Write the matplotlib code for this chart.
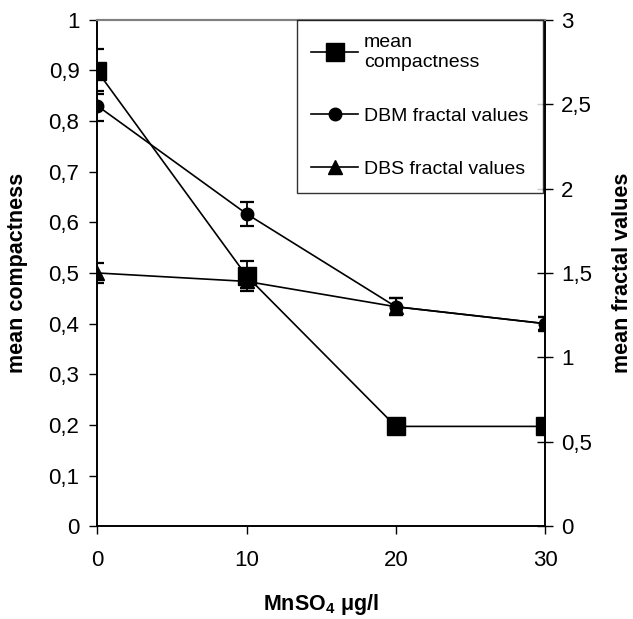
import matplotlib
matplotlib.use("Agg")
import matplotlib.pyplot as plt
from matplotlib.ticker import FuncFormatter, MultipleLocator

plt.rcParams["font.family"] = ["Liberation Sans", "DejaVu Sans"]
plt.rcParams["mathtext.fontset"] = "custom"
plt.rcParams["mathtext.rm"] = "Liberation Sans"
plt.rcParams["mathtext.bf"] = "Liberation Sans:bold"

mnso4 = [0, 10, 20, 30]

compactness = [0.898, 0.494, 0.197, 0.197]
compactness_err = [0.045, 0.03, 0.0, 0.0]

dbm = [2.49, 1.85, 1.30, 1.20]
dbm_err = [0.09, 0.07, 0.05, 0.04]

dbs = [1.50, 1.45, 1.30, 1.20]
dbs_err = [0.06, 0.04, 0.05, 0.04]

labels = ["mean\ncompactness", "DBM fractal values", "DBS fractal values"]


def comma(v, pos):
    s = f"{v:g}"
    return s.replace(".", ",")


fig = plt.figure(figsize=(6.33, 6.19), dpi=100)
ax = fig.add_axes([0.154, 0.150, 0.707, 0.818])
ax2 = ax.twinx()

lw = 1.2
err_kw = dict(ecolor="black", elinewidth=1.3, capsize=5, capthick=1.6)

h1 = ax.errorbar(mnso4, compactness, yerr=compactness_err, color="black", lw=lw,
                 marker="s", ms=12.5, **err_kw)
h2 = ax2.errorbar(mnso4, dbm, yerr=dbm_err, color="black", lw=lw,
                  marker="o", ms=9, **err_kw)
h3 = ax2.errorbar(mnso4, dbs, yerr=dbs_err, color="black", lw=lw,
                  marker="^", ms=9.5, **err_kw)

ax.set_xlim(0, 30)
ax.set_ylim(0, 1)
ax2.set_ylim(0, 3)
ax.xaxis.set_major_locator(MultipleLocator(10))
ax.yaxis.set_major_locator(MultipleLocator(0.1))
ax2.yaxis.set_major_locator(MultipleLocator(0.5))
ax.yaxis.set_major_formatter(FuncFormatter(comma))
ax2.yaxis.set_major_formatter(FuncFormatter(comma))

ax.tick_params(axis="x", direction="out", length=5.5, width=1, labelsize=16, pad=12)
ax.tick_params(axis="y", direction="out", length=6, width=1, labelsize=16, pad=7)
ax2.tick_params(axis="y", direction="inout", length=11.5, width=1, labelsize=16, pad=6)

for a in (ax, ax2):
    a.spines["top"].set_color("#808080")
    a.spines["top"].set_linewidth(1.5)
    for s in ("left", "right", "bottom"):
        a.spines[s].set_color("black")
        a.spines[s].set_linewidth(1.2)

ax.set_xlabel(r"MnSO$_\mathbf{4}$ μg/l", fontsize=15.5, fontweight="bold")
ax.set_ylabel("mean compactness", fontsize=15.5, fontweight="bold")
ax2.set_ylabel("mean fractal values", fontsize=15.5, fontweight="bold")
ax.xaxis.set_label_coords(0.5, -0.13)
ax.yaxis.set_label_coords(-0.155, 0.5)
ax2.yaxis.set_label_coords(1.15, 0.5)

# legend shows only line + marker, as in the original
leg = ax2.legend([h1[0], h2[0], h3[0]], labels, loc="upper right",
                 bbox_to_anchor=(0.995, 1.0), frameon=True, fancybox=False,
                 fontsize=14, handlelength=2.4, handletextpad=0.3,
                 borderpad=0.75, labelspacing=1.85, borderaxespad=0)
leg.get_frame().set_edgecolor("black")
leg.get_frame().set_linewidth(1.0)
leg.set_zorder(10)

fig.savefig("out.png", dpi=100)
